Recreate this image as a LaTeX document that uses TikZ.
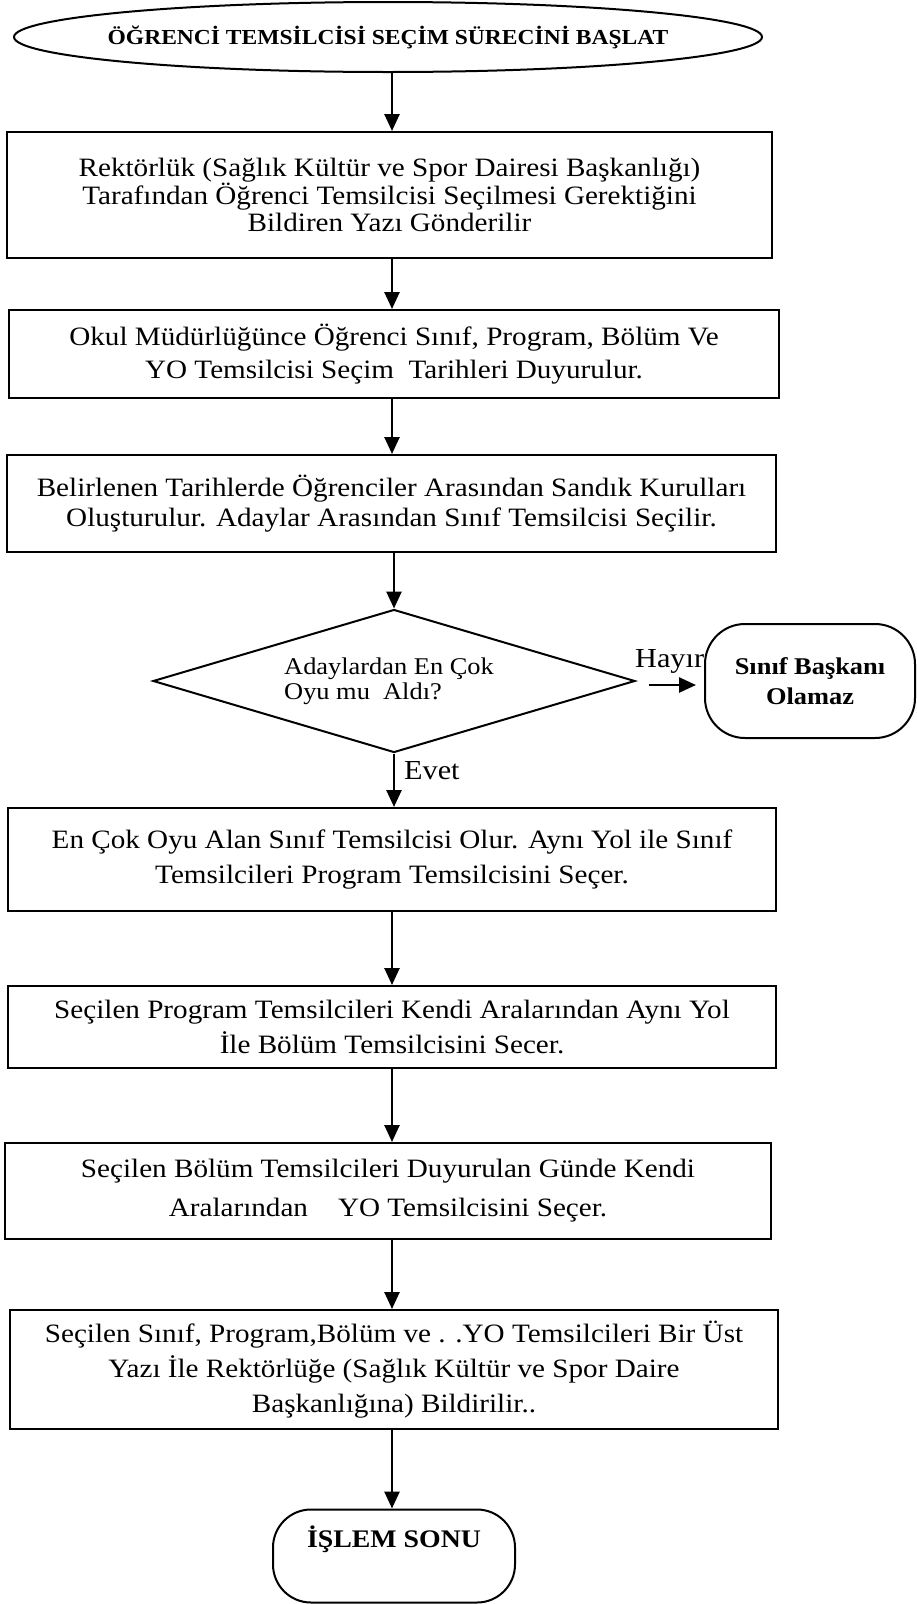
\documentclass[tikz,border=0pt]{standalone}
\usepackage{fontspec}
\setmainfont{Liberation Serif}[FakeStretch=1.1]
\usetikzlibrary{shapes.geometric,arrows.meta}

\newcommand{\fs}[2]{\fontsize{#1}{#2}\selectfont}

\begin{document}
\begin{tikzpicture}[x=1pt,y=-1pt,
  stepbox/.style={draw, line width=2pt, rectangle, inner sep=0pt, align=center},
  termbox/.style={draw, line width=2pt, rectangle, rounded corners=40pt, inner sep=0pt, align=center},
  flow/.style={line width=2.6pt, -{Triangle[length=17pt,width=15pt]}},
  lbl/.style={inner sep=0pt, anchor=west}]
\useasboundingbox (0,0) rectangle (917,1604);

% start terminal
\node[draw, line width=2pt, ellipse, inner sep=0pt, minimum width=748pt, minimum height=70pt,
  label={[font={\fs{21.4}{24}\bfseries}, inner sep=0pt]center:ÖĞRENCİ TEMSİLCİSİ SEÇİM SÜRECİNİ BAŞLAT}]
  (start) at (388,37) {};

% process steps
\node[stepbox, minimum width=765pt, minimum height=126pt, font={\fs{26.5}{27}}] (b1) at (389.5,195)
  {Rektörlük (Sağlık Kültür ve Spor Dairesi Başkanlığı)\\
   Tarafından Öğrenci Temsilcisi Seçilmesi Gerektiğini\\
   Bildiren Yazı Gönderilir};

\node[stepbox, minimum width=770pt, minimum height=88pt, font={\fs{26.5}{33}}] (b2) at (394,354)
  {Okul Müdürlüğünce Öğrenci Sınıf, Program, Bölüm Ve\\
   YO Temsilcisi Seçim\ \ Tarihleri Duyurulur.};

\node[stepbox, minimum width=769pt, minimum height=97pt, font={\fs{26.5}{30}}] (b3) at (391.5,503.5)
  {Belirlenen Tarihlerde Öğrenciler Arasından Sandık Kurulları\\
   Oluşturulur. Adaylar Arasından Sınıf Temsilcisi Seçilir.};

% decision
\node[draw, line width=2pt, diamond, inner sep=0pt, minimum width=482pt, minimum height=143pt]
  (dec) at (394,681) {};
\node[lbl, align=left, font={\fs{24}{25}}] (dectext) at (284,681)
  {Adaylardan En Çok\\Oyu mu\ \ Aldı?};

\node[termbox, minimum width=210pt, minimum height=114pt, font={\fs{24}{30}\bfseries}] (no) at (810,681)
  {Sınıf Başkanı\\Olamaz};
\node[lbl, font={\fs{27.5}{30}}] (hayir) at (635,661) {Hayır};
\node[lbl, font={\fs{27.5}{30}}] (evet) at (404,771) {Evet};

\node[stepbox, minimum width=768pt, minimum height=103pt, font={\fs{26.5}{35}}] (b4) at (392,859.5)
  {En Çok Oyu Alan Sınıf Temsilcisi Olur. Aynı Yol ile Sınıf\\
   Temsilcileri Program Temsilcisini Seçer.};

\node[stepbox, minimum width=768pt, minimum height=82pt, font={\fs{26.5}{35}}] (b5) at (392,1027)
  {Seçilen Program Temsilcileri Kendi Aralarından Aynı Yol\\
   İle Bölüm Temsilcisini Secer.};

\node[stepbox, minimum width=766pt, minimum height=96pt, font={\fs{26.5}{39}}] (b6) at (388,1191)
  {Seçilen Bölüm Temsilcileri Duyurulan Günde Kendi\\
   Aralarından\hspace{30pt}YO Temsilcisini Seçer.};

\node[stepbox, minimum width=768pt, minimum height=119pt, font={\fs{26.5}{35}}] (b7) at (394,1369.5)
  {Seçilen Sınıf, Program,Bölüm ve . .YO Temsilcileri Bir Üst\\
   Yazı İle Rektörlüğe (Sağlık Kültür ve Spor Daire\\
   Başkanlığına) Bildirilir..};

% end terminal
\node[termbox, rounded corners=38pt, minimum width=242pt, minimum height=93pt, font={\fs{25.3}{28}\bfseries}]
  (finish) at (394,1556) {İŞLEM SONU\\[10pt]};

% connectors
\coordinate (ax) at (392,0);
\draw[flow] (start.south -| ax) -- (b1.north -| ax);
\draw[flow] (b1.south -| ax) -- (b2.north -| ax);
\draw[flow] (b2.south -| ax) -- (b3.north -| ax);
\draw[flow] (b3.south -| dec.north) -- (dec.north);
\draw[flow] (dec.south) -- (b4.north -| dec.south);
\draw[flow] (b4.south -| ax) -- (b5.north -| ax);
\draw[flow] (b5.south -| ax) -- (b6.north -| ax);
\draw[flow] (b6.south -| ax) -- (b7.north -| ax);
\draw[flow] (b7.south -| ax) -- (finish.north -| ax);
\draw[flow] ([xshift=13pt,yshift=-4pt]dec.east) -- ([xshift=-8pt,yshift=-4pt]no.west);
\end{tikzpicture}
\end{document}
